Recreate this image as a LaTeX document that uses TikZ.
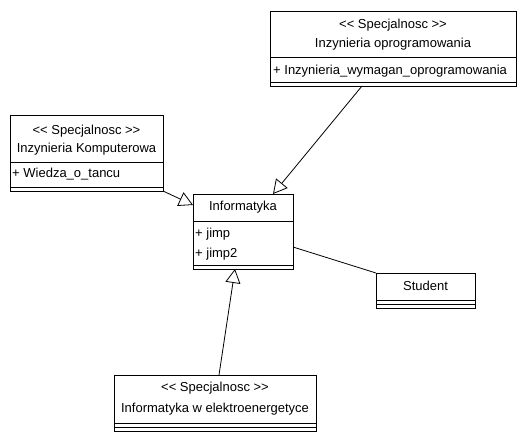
\documentclass[tikz,border=0pt]{standalone}
\usepackage{fontspec}
\setmainfont[Ligatures=NoCommon]{Liberation Sans}
\usetikzlibrary{arrows.meta,calc}
\newcommand{\stereo}{\textless{}\textless{} Specjalnosc \textgreater{}\textgreater{}}
\begin{document}
\begin{tikzpicture}[x=1pt,y=-1pt,
  box/.style={draw,line width=0.9pt,anchor=north west,inner sep=0pt,outer sep=0pt},
  txt/.style={inner sep=0pt,font=\fontsize{13}{15}\selectfont},
  ln/.style={line width=0.9pt},
  gen/.style={line width=0.8pt,-{Triangle[open,length=14pt,width=15pt,fill=white]}},
  assoc/.style={line width=0.8pt}]
\useasboundingbox (0,0) rectangle (526,441);
% Inzynieria oprogramowania
\node[box,minimum width=246pt,minimum height=75pt] (io) at (270,11) {};
\draw[ln] (270,57) -- (516,57);
\draw[ln] (270,82) -- (516,82);
\node[txt] (ios) at (393,25) {\stereo};
\node[txt] (ion) at (393,44) {Inzynieria oprogramowania};
\node[txt,anchor=west] (ioa) at (273,71) {+ Inzynieria\_wymagan\_oprogramowania};
% Inzynieria Komputerowa
\node[box,minimum width=153pt,minimum height=76pt] (ik) at (10,115) {};
\draw[ln] (10,162) -- (163,162);
\draw[ln] (10,187) -- (163,187);
\node[txt] (iks) at (86.5,131) {\stereo};
\node[txt] (ikn) at (86.5,149) {Inzynieria Komputerowa};
\node[txt,anchor=west] (ika) at (12,174) {+ Wiedza\_o\_tancu};
% Informatyka
\node[box,minimum width=100pt,minimum height=75pt] (inf) at (193,194) {};
\draw[ln] (193,221) -- (293,221);
\draw[ln] (193,265) -- (293,265);
\node[txt] (infn) at (243,207) {Informatyka};
\node[txt,anchor=west] (infa) at (195,234) {+ jimp};
\node[txt,anchor=west] (infb) at (195,254) {+ jimp2};
% Student
\node[box,minimum width=99pt,minimum height=35pt] (st) at (376,273) {};
\draw[ln] (376,300) -- (475,300);
\draw[ln] (376,304) -- (475,304);
\node[txt] (stn) at (425.5,286) {Student};
% Informatyka w elektroenergetyce
\node[box,minimum width=202pt,minimum height=56pt] (ie) at (114,375) {};
\draw[ln] (114,423) -- (316,423);
\draw[ln] (114,427) -- (316,427);
\node[txt] (ies) at (215,388) {\stereo};
\node[txt] (ien) at (215,409) {Informatyka w elektroenergetyce};
% connectors
\draw[gen] ($(io.south west)+(92,0)$) -- ($(inf.north west)+(80,0)$);
\draw[gen] (ik.south east) -- ($(inf.north west)+(0,11)$);
\draw[gen] ($(ie.north west)+(105,0)$) -- ($(inf.south west)+(42,0)$);
\draw[assoc] ($(inf.north east)+(0,53)$) -- (st.north west);
\end{tikzpicture}
\end{document}
